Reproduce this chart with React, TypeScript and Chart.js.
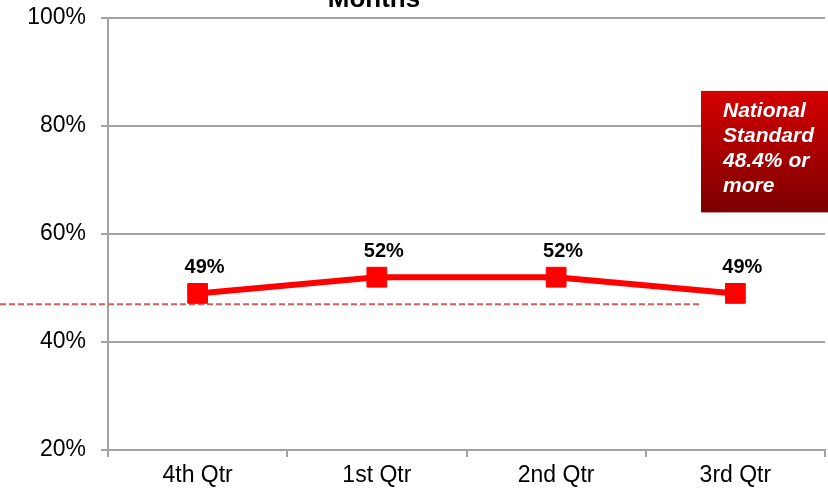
import React, { useEffect, useRef } from "react";
import { Chart, registerables } from "chart.js";

Chart.register(...registerables);

const categories = ["4th Qtr", "1st Qtr", "2nd Qtr", "3rd Qtr"];
const values = [49, 52, 52, 49];
const standardLevel = 47;
const yTicks = [20, 40, 60, 80, 100];
const titleText = "Months";
const boxLines = ["National", "Standard", "48.4% or", "more"];

const FONT = "'Liberation Sans', Arial, sans-serif";
const GRAY = "#a3a3a3";

const overlayPlugin = {
  id: "overlay",
  beforeDatasetsDraw(chart: any) {
    const { ctx, chartArea, scales } = chart;
    const y = scales.y;
    const boxLeft = chartArea.right - 124;
    // dashed standard line
    ctx.save();
    ctx.strokeStyle = "#d06060";
    ctx.lineWidth = 2;
    ctx.setLineDash([6, 3]);
    const yy = y.getPixelForValue(standardLevel);
    ctx.beginPath();
    ctx.moveTo(0, yy);
    ctx.lineTo(boxLeft, yy);
    ctx.stroke();
    ctx.restore();
  },
  afterDatasetsDraw(chart: any) {
    const { ctx, chartArea, scales } = chart;
    const y = scales.y;
    const boxLeft = chartArea.right - 124;

    // data labels
    const meta = chart.getDatasetMeta(0);
    ctx.save();
    ctx.font = `bold 20px ${FONT}`;
    ctx.fillStyle = "#000";
    ctx.textAlign = "center";
    ctx.textBaseline = "middle";
    meta.data.forEach((pt: any, i: number) => {
      ctx.fillText(values[i] + "%", pt.x + 7, pt.y - 26);
    });
    ctx.restore();

    // red box
    const top = y.getPixelForValue(86.5);
    const bottom = y.getPixelForValue(64);
    ctx.save();
    const g = ctx.createLinearGradient(0, top, 0, bottom);
    g.addColorStop(0, "#d40000");
    g.addColorStop(1, "#7c0000");
    ctx.fillStyle = g;
    ctx.fillRect(boxLeft, top, chart.width - boxLeft, bottom - top);
    ctx.fillStyle = "#fff";
    ctx.font = `italic bold 21px ${FONT}`;
    ctx.textAlign = "left";
    ctx.textBaseline = "alphabetic";
    boxLines.forEach((t, i) => {
      ctx.fillText(t, boxLeft + 22, top + 26 + i * 25);
    });
    ctx.restore();

    // title (cut off at top)
    ctx.save();
    ctx.font = `bold 26px ${FONT}`;
    ctx.fillStyle = "#000";
    ctx.textAlign = "center";
    ctx.textBaseline = "alphabetic";
    ctx.fillText(titleText, 374, 7);
    ctx.restore();
  },
};

export default function App() {
  const ref = useRef<HTMLCanvasElement>(null);
  useEffect(() => {
    if (!ref.current) return;
    const chart = new Chart(ref.current, {
      type: "line",
      data: {
        labels: categories,
        datasets: [
          {
            data: values,
            borderColor: "#ff0000",
            backgroundColor: "#ff0000",
            borderWidth: 6,
            pointStyle: "rect",
            pointRadius: 14,
            pointBorderWidth: 1,
            pointBorderColor: "#ff0000",
            pointBackgroundColor: "#ff0000",
            tension: 0,
          },
        ],
      },
      options: {
        animation: false,
        responsive: true,
        maintainAspectRatio: false,
        layout: { autoPadding: false, padding: { top: 18, right: 3, left: 0, bottom: 0 } },
        plugins: {
          legend: { display: false },
          tooltip: { enabled: false },
          title: { display: false },
        },
        scales: {
          x: {
            type: "category",
            offset: true,
            grid: {
              display: true,
              drawOnChartArea: false,
              drawTicks: true,
              tickLength: 7,
              color: GRAY,
              lineWidth: 2,
              offset: true,
            },
            border: { display: true, color: GRAY, width: 2 },
            ticks: {
              color: "#000",
              font: { family: FONT, size: 23 },
              padding: 5,
              maxRotation: 0,
            },
            afterFit(scale: any) {
              scale.height = 41;
              scale.paddingLeft = 0;
              scale.paddingRight = 0;
            },
          },
          y: {
            min: yTicks[0],
            max: yTicks[yTicks.length - 1],
            afterBuildTicks(scale: any) {
              scale.ticks = yTicks.map((v) => ({ value: v }));
            },
            grid: {
              color: GRAY,
              lineWidth: 2,
              tickLength: 7,
              drawTicks: true,
            },
            border: { display: true, color: GRAY, width: 2 },
            ticks: {
              color: "#000",
              font: { family: FONT, size: 23 },
              padding: 15,
              callback: (v: any) => v + "%",
            },
            afterFit(scale: any) {
              scale.width = 108;
              scale.paddingTop = 0;
              scale.paddingBottom = 0;
            },
          },
        },
      },
      plugins: [overlayPlugin],
    });
    return () => chart.destroy();
  }, []);
  return (
    <div style={{ position: "fixed", left: 0, top: 0, width: 828, height: 491, background: "#fff" }}>
      <canvas ref={ref} />
    </div>
  );
}
